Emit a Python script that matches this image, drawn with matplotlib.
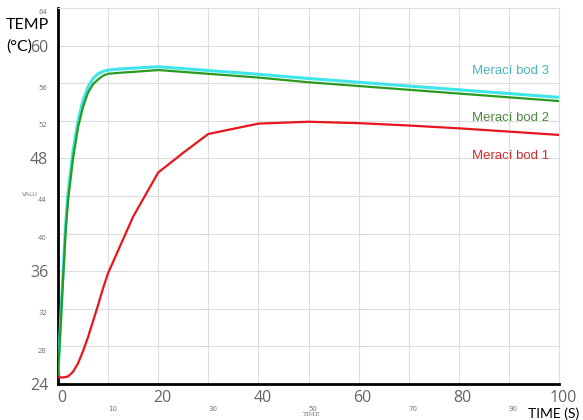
import matplotlib

matplotlib.use("Agg")

import matplotlib.pyplot as plt
from matplotlib.transforms import ScaledTranslation

# Merací bod 2 / 3 (fast response)
t_fast = [0, 0.5, 1, 1.5, 2, 3, 4, 5, 6, 7, 8, 9, 10, 12, 15, 20, 30, 40, 50, 60, 70, 80, 90, 100]
bod2 = [25.0, 30.0, 35.0, 40.0, 43.5, 48.0, 51.3, 53.5, 55.0, 55.9, 56.4, 56.8, 57.0, 57.1, 57.2,
        57.4, 57.0, 56.6, 56.1, 55.7, 55.3, 54.9, 54.5, 54.1]
bod3 = [25.0, 30.5, 35.8, 40.8, 44.3, 48.8, 52.0, 54.2, 55.6, 56.5, 57.0, 57.25, 57.4, 57.5, 57.6,
        57.75, 57.35, 56.95, 56.5, 56.1, 55.7, 55.3, 54.9, 54.5]

# Merací bod 1 (slow response)
t_slow = [0, 1, 2, 3, 4, 5, 6, 7, 8, 9, 10, 12, 15, 20, 25, 30, 40, 50, 60, 70, 80, 90, 100]
bod1 = [24.7, 24.7, 24.8, 25.3, 26.2, 27.5, 29.0, 30.7, 32.4, 34.2, 35.8, 38.2, 41.8, 46.5, 48.6,
        50.6, 51.7, 51.9, 51.75, 51.5, 51.2, 50.85, 50.5]

x_major = [0, 20, 40, 60, 80, 100]
x_minor = [10, 30, 50, 70, 90]
y_major = [24, 36, 48, 60]
y_minor = [28, 32, 40, 44, 52, 56, 64]

labels = ["Merací bod 3", "Merací bod 2", "Merací bod 1"]
label_y = [57.3, 52.3, 48.3]
text_colors = ["#4ab4bc", "#4a8c3c", "#d42a2a"]

W, H = 583, 420
fig = plt.figure(figsize=(W / 100, H / 100), dpi=100)
ax = fig.add_axes([58 / W, 36 / H, (559 - 58) / W, (384 - 8) / H])

ax.plot(t_fast, bod3, color="#3ee6ea", lw=2.2, zorder=3)
ax.plot(t_fast, bod2, color="#2a9a1e", lw=1.6, zorder=4)
ax.plot(t_slow, bod1, color="#e8161c", lw=1.6, zorder=4)

ax.set_xlim(0, 100)
ax.set_ylim(24, 64)
ax.set_xticks(x_major)
ax.set_xticks(x_minor, minor=True)
ax.set_yticks(y_major)
ax.set_yticks(y_minor, minor=True)
ax.set_xticklabels([str(v) for v in x_major], fontsize=11.5, color="#666666", family="Open Sans")
ax.set_xticklabels([str(v) for v in x_minor], minor=True, fontsize=5, color="#777777", ha="left")
ax.set_yticklabels([str(v) for v in y_major], fontsize=11.5, color="#666666", family="Open Sans")
ax.set_yticklabels([str(v) for v in y_minor], minor=True, fontsize=5, color="#777777")
ax.tick_params(which="both", length=0)
ax.tick_params(axis="x", which="major", pad=4)
ax.tick_params(axis="x", which="minor", pad=16)
ax.tick_params(axis="y", which="major", pad=7)
ax.tick_params(axis="y", which="minor", pad=8)
ax.grid(which="both", color="#dddddd", lw=0.8)
ax.set_axisbelow(True)

# nudge the tick labels a little, the way they sit in the original
shift_x = ScaledTranslation(4 / 100, 0, fig.dpi_scale_trans)
for lab in ax.get_xticklabels():
    lab.set_transform(lab.get_transform() + shift_x)
shift_y = ScaledTranslation(0, -4 / 100, fig.dpi_scale_trans)
for lab in ax.get_yticklabels(minor=True):
    lab.set_transform(lab.get_transform() + shift_y)

for side in ["top", "right"]:
    ax.spines[side].set_color("#dddddd")
    ax.spines[side].set_linewidth(0.8)
for side in ["left", "bottom"]:
    ax.spines[side].set_color("black")
    ax.spines[side].set_linewidth(2)

for lab, yy, c in zip(labels, label_y, text_colors):
    ax.text(90.4, yy, lab, color=c, fontsize=9.5, ha="center", va="center", family="Liberation Sans")

fig.text(6 / W, 1 - 25 / H, "TEMP", fontsize=11.5, va="center", ha="left", family="Lato")
fig.text(6 / W, 1 - 47 / H, "(°C)", fontsize=11.5, va="center", ha="left", family="Lato")
fig.text(30 / W, 1 - 194 / H, "VALU", fontsize=4.5, va="center", ha="center", color="#777777")
fig.text(312 / W, 1 - 414 / H, "TIME", fontsize=4.5, va="center", ha="center", color="#777777",
         family="DejaVu Serif")
fig.text(528 / W, 1 - 413.5 / H, "TIME (S)", fontsize=10, va="center", ha="left", family="Lato")

fig.savefig("out.png", dpi=100)
